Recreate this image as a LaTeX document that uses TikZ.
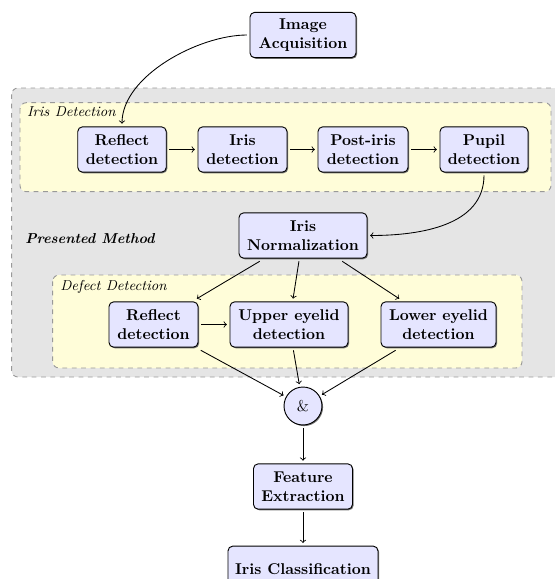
\documentclass[tikz,border=0pt]{standalone}
\usetikzlibrary{shadows}
\begin{document}
\begin{tikzpicture}[x=0.64pt,y=-0.64pt,
  blk/.style={draw, rounded corners=3pt, fill=blue!10, font=\bfseries, align=center,
    minimum height=29pt, inner xsep=2pt, inner ysep=4pt, outer sep=2pt, line width=0.6pt,
    drop shadow={shadow xshift=0.7pt, shadow yshift=-0.7pt, fill=black!55, opacity=1}},
  w/.style={minimum width=#1*0.64pt},
  arr/.style={->, line width=0.55pt},
  grp/.style={draw=black!40, dashed, rounded corners=4pt, line width=0.6pt},
  lbl/.style={anchor=west, inner sep=0pt, font=\fontsize{9.2}{11}\selectfont\itshape}]
\useasboundingbox (0,0) rectangle (554,579);
% containers
\draw[grp, fill=black!10] (11.7,88) rectangle (562,377);
\draw[grp, fill=yellow!15] (20,102.7) rectangle (551,191.7);
\draw[grp, fill=yellow!15] (52.7,275) rectangle (522,368);
\node[lbl] (lid) at (26.7,112) {Iris Detection};
\node[lbl] (ldd) at (60,287) {Defect Detection};
\node[lbl, font=\fontsize{9.2}{11}\selectfont\bfseries\itshape] (lpm) at (25,238.5) {Presented Method};
% nodes
\node[blk, w=106] (acq) at (303,35) {Image\\Acquisition};
\node[blk, w=88.5] (r1) at (122,149.5) {Reflect\\detection};
\node[blk, w=89] (ir) at (242.5,149.5) {Iris\\detection};
\node[blk, w=90] (pi) at (363,149.5) {Post-iris\\detection};
\node[blk, w=88] (pu) at (484,149.5) {Pupil\\detection};
\node[blk, w=128] (norm) at (303,235.5) {Iris\\Normalization};
\node[blk, w=89] (r2) at (153.5,324.5) {Reflect\\detection};
\node[blk, w=118] (up) at (289,324.5) {Upper eyelid\\detection};
\node[blk, w=115] (lo) at (438.5,324.5) {Lower eyelid\\detection};
\node[draw, circle, fill=blue!10, minimum size=24.3pt, inner sep=0pt, outer sep=2pt, line width=0.6pt,
  drop shadow={shadow xshift=0.7pt, shadow yshift=-0.7pt, fill=black!55, opacity=1}] (and) at (303,406) {\&};
\node[blk, w=99] (fe) at (303,486.5) {Feature\\Extraction};
\node[blk, w=150] (cl) at (303,568.8) {Iris Classification};
% connectors
\draw[arr] (acq.west) to[out=180, in=90, looseness=0.8] (r1.north);
\draw[arr] (r1) -- (ir);
\draw[arr] (ir) -- (pi);
\draw[arr] (pi) -- (pu);
\draw[arr] (pu.south) to[out=-90, in=0] (norm.east);
\draw[arr] (norm) -- (r2);
\draw[arr] (norm) -- (up);
\draw[arr] (norm) -- (lo);
\draw[arr] (r2) -- (up);
\draw[arr] (r2) -- (and);
\draw[arr] (up) -- (and);
\draw[arr] (lo) -- (and);
\draw[arr] (and) -- (fe);
\draw[arr] (fe) -- (cl);
\end{tikzpicture}
\end{document}
